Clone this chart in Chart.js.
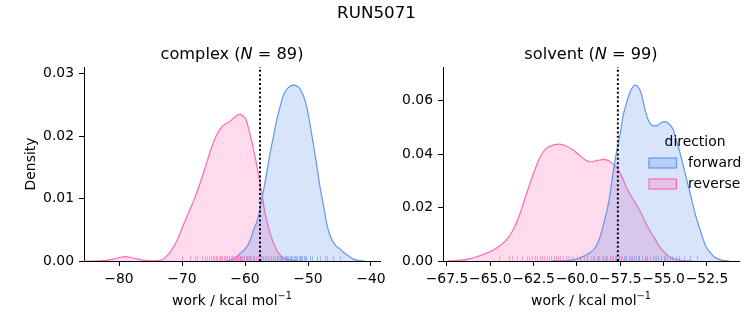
<!DOCTYPE html>
<html>
<head>
<meta charset="utf-8">
<script src="https://cdn.jsdelivr.net/npm/chart.js@4/dist/chart.umd.min.js"></script>
<style>
  html, body { margin: 0; padding: 0; background: #fff; }
  #wrap { position: relative; width: 753px; height: 325px; overflow: hidden; }
  #wrap canvas { position: absolute; left: 0; top: 0; }
</style>
</head>
<body>
<div id="wrap">
  <canvas id="complexCanvas" width="753" height="325"></canvas>
  <canvas id="solventCanvas" width="753" height="325"></canvas>
</div>
<script>
// ---- run / phase info ----
const runName = 'RUN5071';
const directions = ['forward', 'reverse'];
const complexN = 89;
const solventN = 99;
const complexEstimate = -57.62;   // dotted reference line (kcal/mol)
const solventEstimate = -57.64;

// ---- complex phase: KDE curves (work in kcal/mol, density) ----
const complexForwardWork = [-63.0,-62.5,-61.5,-60.8,-60.0,-59.3,-58.7,-58.05,-57.35,-56.7,-56.03,-55.4,-54.97,-54.3,-53.9,-53.2,-52.3,-51.7,-51.27,-50.7,-50.2,-49.7,-49.16,-48.6,-48.1,-47.5,-47.03,-46.4,-45.7,-44.9,-44.13,-43.4,-42.8,-42.0,-41.0];
const complexForwardDensity = [0,0.0001,0.0005,0.0012,0.0019,0.0030,0.0048,0.0065,0.0098,0.0133,0.0172,0.0204,0.0226,0.0252,0.0266,0.0277,0.0282,0.0280,0.0276,0.0264,0.0247,0.0220,0.0188,0.0153,0.0119,0.0087,0.0060,0.0038,0.0026,0.0019,0.0012,0.0007,0.0003,0.0001,0];
const complexReverseWork = [-85.5,-83.5,-82.0,-80.5,-79.0,-77.5,-76.0,-74.5,-73.4,-72.5,-71.3,-70.5,-69.7,-68.9,-68.1,-67.4,-66.8,-66.1,-65.45,-64.9,-64.4,-63.6,-62.5,-61.7,-60.95,-60.4,-59.9,-59.5,-59.1,-58.7,-58.3,-57.9,-57.5,-56.8,-56.0,-55.0,-54.2,-53.4,-52.5,-51.5];
const complexReverseDensity = [0,0.00002,0.0001,0.0004,0.0007,0.0004,0.0001,0.00003,0.0001,0.0007,0.0023,0.0040,0.0060,0.0079,0.0098,0.0117,0.0135,0.0157,0.0178,0.0193,0.0204,0.0216,0.0223,0.0230,0.0235,0.0233,0.0228,0.0215,0.0199,0.0181,0.0162,0.0140,0.0119,0.0076,0.0044,0.0018,0.0007,0.0003,0.0001,0];

// ---- complex phase: individual work samples (rug) ----
const complexForwardSamples = [-60.8,-59.9,-59.2,-58.5,-57.9,-57.3,-56.8,-56.3,-55.9,-55.6,-55.3,-55.0,-54.8,-54.5,-54.3,-54.1,-53.9,-53.7,-53.5,-53.3,-53.1,-52.9,-52.7,-52.5,-52.3,-52.1,-51.9,-51.7,-51.5,-51.3,-51.1,-50.9,-50.7,-50.5,-50.3,-49.7,-49.3,-48.6,-48.1,-47.3,-47.0,-46.0,-44.9];
const complexReverseSamples = [-70.0,-68.7,-68.0,-67.7,-66.9,-66.4,-66.1,-65.7,-65.4,-65.1,-64.9,-64.6,-64.4,-64.2,-64.0,-63.8,-63.6,-63.4,-63.2,-63.0,-62.8,-62.6,-62.5,-62.3,-62.1,-62.0,-61.8,-61.7,-61.5,-61.4,-61.2,-61.1,-60.9,-60.8,-60.6,-60.5,-60.3,-60.1,-59.9,-59.7,-59.5,-59.3,-59.0,-58.8,-58.5,-58.2,-57.9,-57.5,-57.1,-56.7,-56.2];

// ---- solvent phase: KDE curves ----
const solventForwardWork = [-61.5,-60.43,-59.8,-59.28,-59.0,-58.75,-58.5,-58.3,-58.11,-57.94,-57.73,-57.47,-57.35,-57.15,-56.97,-56.8,-56.62,-56.45,-56.29,-56.1,-55.92,-55.7,-55.43,-55.15,-54.9,-54.7,-54.48,-54.3,-54.1,-53.9,-53.71,-53.52,-53.33,-53.15,-52.95,-52.75,-52.56,-52.3,-52.09,-51.8,-51.5,-51.2];
const solventForwardDensity = [0,0.0002,0.0012,0.0030,0.0045,0.0075,0.0128,0.0180,0.0241,0.0320,0.0403,0.0490,0.0540,0.0590,0.0628,0.0650,0.0659,0.0650,0.0628,0.0575,0.0534,0.0510,0.0506,0.0518,0.0522,0.0514,0.0497,0.0462,0.0416,0.0366,0.0316,0.0266,0.0216,0.0170,0.0128,0.0088,0.0054,0.0030,0.0016,0.0006,0.0001,0];
const solventReverseWork = [-67.5,-66.9,-66.2,-65.79,-65.2,-64.81,-64.4,-64.0,-63.66,-63.3,-62.9,-62.5,-62.13,-61.8,-61.5,-61.1,-60.7,-60.22,-59.84,-59.5,-59.2,-58.8,-58.45,-58.1,-57.9,-57.64,-57.4,-57.16,-56.8,-56.39,-56.1,-55.82,-55.5,-55.24,-54.95,-54.67,-54.3,-53.8,-53.3];
const solventReverseDensity = [0,0.0002,0.0008,0.0016,0.0030,0.0041,0.0060,0.0085,0.0120,0.0175,0.0255,0.0330,0.0390,0.0420,0.0432,0.0438,0.0433,0.0416,0.0395,0.0378,0.0372,0.0377,0.0381,0.0373,0.0362,0.0345,0.0315,0.0278,0.0235,0.0191,0.0152,0.0116,0.0083,0.0054,0.0032,0.0016,0.0006,0.0001,0];

// ---- solvent phase: individual work samples (rug) ----
const solventForwardSamples = [-59.8,-59.4,-59.1,-58.8,-58.5,-58.3,-58.1,-57.9,-57.75,-57.6,-57.45,-57.3,-57.15,-57.0,-56.9,-56.8,-56.7,-56.6,-56.5,-56.4,-56.25,-56.1,-55.95,-55.8,-55.6,-55.45,-55.3,-55.15,-55.0,-54.9,-54.8,-54.65,-54.5,-54.3,-54.1,-53.8,-53.5,-53.1];
const solventReverseSamples = [-64.5,-63.95,-63.75,-63.45,-63.2,-62.9,-62.75,-62.6,-62.45,-62.3,-62.15,-62.0,-61.9,-61.75,-61.6,-61.5,-61.35,-61.2,-61.1,-60.95,-60.8,-60.65,-60.5,-60.35,-60.2,-60.0,-59.85,-59.6,-59.4,-59.2,-59.0,-58.85,-58.7,-58.55,-58.4,-58.25,-58.1,-57.95,-57.8,-57.6,-57.4,-57.2,-57.0,-56.7,-56.4,-56.0,-55.5];

// ---- axis ticks ----
const complexXTicks = [-80, -70, -60, -50, -40];
const complexXTickLabels = ['\u221280', '\u221270', '\u221260', '\u221250', '\u221240'];
const complexYTicks = [0, 0.01, 0.02, 0.03];
const complexYTickLabels = ['0.00', '0.01', '0.02', '0.03'];
const solventXTicks = [-67.5, -65.0, -62.5, -60.0, -57.5, -55.0, -52.5];
const solventXTickLabels = ['\u221267.5', '\u221265.0', '\u221262.5', '\u221260.0', '\u221257.5', '\u221255.0', '\u221252.5'];
const solventYTicks = [0, 0.02, 0.04, 0.06];
const solventYTickLabels = ['0.00', '0.02', '0.04', '0.06'];

// ---- styling ----
const FAMILY = "'DejaVu Sans', 'Liberation Sans', sans-serif";
const BLUE = 'rgb(100,149,237)';
const BLUE_FILL = 'rgba(100,149,237,0.25)';
const BLUE_RUG = 'rgba(100,149,237,0.55)';
const PINK = 'rgb(255,105,180)';
const PINK_FILL = 'rgba(255,105,180,0.25)';
const PINK_RUG = 'rgba(255,105,180,0.55)';

Chart.defaults.font.family = FAMILY;
Chart.defaults.color = '#000';

function zip(xs, ys) { return xs.map((x, i) => ({ x: x, y: ys[i] })); }

function drawRuns(ctx, runs, cx, y) {
  let w = 0;
  for (const r of runs) { ctx.font = r.font; w += ctx.measureText(r.text).width; }
  let x = cx - w / 2;
  ctx.textAlign = 'left';
  for (const r of runs) {
    ctx.font = r.font;
    ctx.fillText(r.text, x, y + (r.dy || 0));
    x += ctx.measureText(r.text).width;
  }
}

function decorPlugin(cfg) {
  return {
    id: 'panelDecor',
    afterDatasetsDraw(chart) {
      const ctx = chart.ctx;
      const xs = chart.scales.x;
      const area = chart.chartArea;
      // rug of individual samples along the baseline
      const rugH = 0.025 * (area.bottom - area.top);
      const rugs = [[cfg.forwardSamples, BLUE_RUG], [cfg.reverseSamples, PINK_RUG]];
      ctx.save();
      ctx.lineWidth = 1;
      for (const [vals, col] of rugs) {
        ctx.strokeStyle = col;
        for (const v of vals) {
          const px = Math.round(xs.getPixelForValue(v)) + 0.5;
          ctx.beginPath();
          ctx.moveTo(px, area.bottom);
          ctx.lineTo(px, area.bottom - rugH);
          ctx.stroke();
        }
      }
      // dotted estimate line
      const ex = xs.getPixelForValue(cfg.estimate);
      ctx.strokeStyle = '#000';
      ctx.lineWidth = 2;
      ctx.setLineDash([2, 2.4]);
      ctx.beginPath();
      ctx.moveTo(ex, area.bottom);
      ctx.lineTo(ex, area.top);
      ctx.stroke();
      ctx.setLineDash([]);
      // legend (frameless, drawn over the plot)
      if (cfg.legend) {
        const lx = area.right - 90, ly = area.top + 75;
        ctx.fillStyle = '#000';
        ctx.font = '13.9px ' + FAMILY;
        ctx.textBaseline = 'middle';
        ctx.textAlign = 'center';
        ctx.fillText('direction', lx + 46, ly);
        const items = [[directions[0], BLUE, BLUE_FILL], [directions[1], PINK, PINK_FILL]];
        items.forEach(([lab, line, fill], i) => {
          const ry = ly + 16 + i * 21;
          ctx.fillStyle = fill;
          ctx.fillRect(lx, ry, 27.5, 10);
          ctx.strokeStyle = line;
          ctx.lineWidth = 1.2;
          ctx.strokeRect(lx, ry, 27.5, 10);
          ctx.fillStyle = '#000';
          ctx.textAlign = 'left';
          ctx.fillText(lab, lx + 39, ry + 5);
        });
      }
      ctx.restore();
    },
    afterDraw(chart) {
      const ctx = chart.ctx;
      const area = chart.chartArea;
      const cx = (area.left + area.right) / 2;
      ctx.save();
      ctx.fillStyle = '#000';
      ctx.textBaseline = 'alphabetic';
      // panel title with italic N
      const tf = '16.2px ' + FAMILY;
      drawRuns(ctx, [
        { text: cfg.phase + ' (', font: tf },
        { text: 'N', font: 'italic ' + tf },
        { text: ' = ' + cfg.n + ')', font: tf }
      ], cx, area.top - 8);
      // x axis label with superscript
      drawRuns(ctx, [
        { text: 'work / kcal mol', font: '13.9px ' + FAMILY },
        { text: '\u22121', font: '9.7px ' + FAMILY, dy: -6 }
      ], cx, 305);
      if (cfg.yLabel) {
        ctx.save();
        ctx.translate(31, (area.top + area.bottom) / 2);
        ctx.rotate(-Math.PI / 2);
        ctx.font = '13.9px ' + FAMILY;
        ctx.textAlign = 'center';
        ctx.textBaseline = 'middle';
        ctx.fillText(cfg.yLabel, 0, 0);
        ctx.restore();
      }
      if (cfg.suptitle) {
        ctx.font = '16.7px ' + FAMILY;
        ctx.textAlign = 'center';
        ctx.textBaseline = 'middle';
        ctx.fillText(cfg.suptitle, 753 / 2, 13.5);
      }
      ctx.restore();
    }
  };
}

function makePanel(canvasId, cfg) {
  const axisLine = { display: true, color: '#000', width: 1 };
  const gridCfg = { drawOnChartArea: false, drawTicks: true, tickLength: 5, color: '#000', lineWidth: 1 };
  const tickFont = { size: 13.9, family: FAMILY };
  return new Chart(document.getElementById(canvasId), {
    type: 'line',
    data: {
      datasets: [
        {
          label: directions[0], data: zip(cfg.forwardWork, cfg.forwardDensity),
          borderColor: BLUE, backgroundColor: BLUE_FILL, fill: 'origin',
          borderWidth: 1.2, pointRadius: 0, cubicInterpolationMode: 'monotone'
        },
        {
          label: directions[1], data: zip(cfg.reverseWork, cfg.reverseDensity),
          borderColor: PINK, backgroundColor: PINK_FILL, fill: 'origin',
          borderWidth: 1.2, pointRadius: 0, cubicInterpolationMode: 'monotone'
        }
      ]
    },
    options: {
      responsive: false,
      animation: false,
      devicePixelRatio: 1,
      layout: { padding: { left: cfg.padLeft, right: cfg.padRight, top: 67, bottom: 0 } },
      plugins: { legend: { display: false }, tooltip: { enabled: false }, title: { display: false } },
      scales: {
        x: {
          type: 'linear', min: cfg.xMin, max: cfg.xMax,
          afterFit: s => { s.height = 64; },
          afterBuildTicks: s => { s.ticks = cfg.xTicks.map(v => ({ value: v })); },
          ticks: {
            autoSkip: false, maxRotation: 0, minRotation: 0, padding: 5, font: tickFont, color: '#000',
            callback: (v, i) => cfg.xTickLabels[i]
          },
          grid: gridCfg, border: axisLine
        },
        y: {
          type: 'linear', min: 0, max: cfg.yMax,
          afterFit: s => { s.width = cfg.yAxisWidth; },
          afterBuildTicks: s => { s.ticks = cfg.yTicks.map(v => ({ value: v })); },
          ticks: {
            autoSkip: false, padding: 5, font: tickFont, color: '#000',
            callback: (v, i) => cfg.yTickLabels[i]
          },
          grid: gridCfg, border: axisLine
        }
      }
    },
    plugins: [decorPlugin(cfg)]
  });
}

makePanel('complexCanvas', {
  phase: 'complex', n: complexN, estimate: complexEstimate,
  forwardWork: complexForwardWork, forwardDensity: complexForwardDensity,
  reverseWork: complexReverseWork, reverseDensity: complexReverseDensity,
  forwardSamples: complexForwardSamples, reverseSamples: complexReverseSamples,
  xMin: -85.56, xMax: -38.57, yMax: 0.0311,
  xTicks: complexXTicks, xTickLabels: complexXTickLabels,
  yTicks: complexYTicks, yTickLabels: complexYTickLabels,
  padLeft: 0, padRight: 373, yAxisWidth: 84,
  yLabel: 'Density', suptitle: runName, legend: false
});

makePanel('solventCanvas', {
  phase: 'solvent', n: solventN, estimate: solventEstimate,
  forwardWork: solventForwardWork, forwardDensity: solventForwardDensity,
  reverseWork: solventReverseWork, reverseDensity: solventReverseDensity,
  forwardSamples: solventForwardSamples, reverseSamples: solventReverseSamples,
  xMin: -67.73, xMax: -50.65, yMax: 0.0727,
  xTicks: solventXTicks, xTickLabels: solventXTickLabels,
  yTicks: solventYTicks, yTickLabels: solventYTickLabels,
  padLeft: 400, padRight: 14, yAxisWidth: 43,
  yLabel: null, suptitle: null, legend: true
});
</script>
</body>
</html>
